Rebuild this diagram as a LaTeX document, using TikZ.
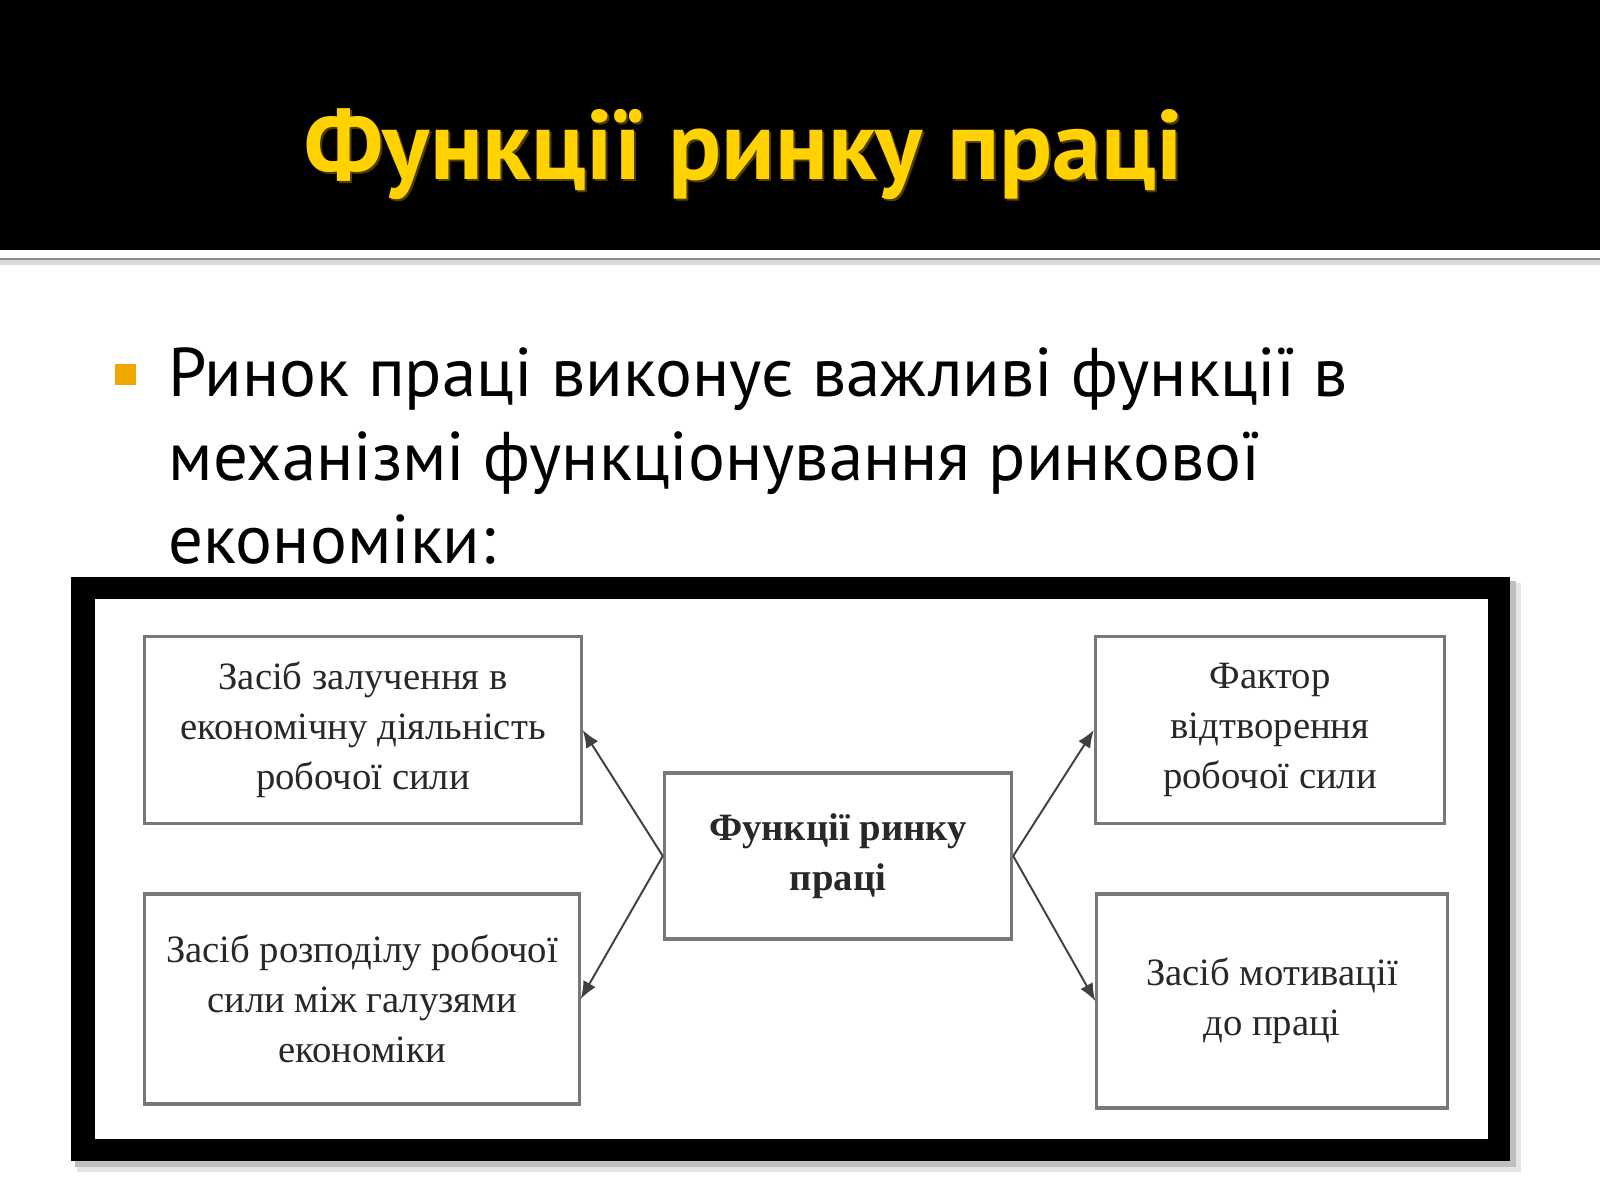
\documentclass[tikz,border=0pt]{standalone}
\usepackage{fontspec}
\newfontfamily\slidefont{PT Sans}
\newfontfamily\scanfont{Liberation Serif}
\usetikzlibrary{arrows.meta}
\definecolor{titlegold}{RGB}{255,210,0}
\definecolor{titleshade}{RGB}{80,62,0}
\definecolor{bulletorange}{RGB}{240,168,0}
\definecolor{boxline}{RGB}{120,120,120}
\definecolor{boxtext}{RGB}{40,40,40}
\begin{document}
\begin{tikzpicture}[x=0.01cm,y=-0.01cm,
  func/.style={draw=boxline,line width=0.9pt,align=center,inner sep=0pt,
    text=boxtext,font=\scanfont\fontsize{11}{14.2}\selectfont},
  textline/.style={anchor=base west,inner sep=0pt,
    font=\slidefont\fontsize{19.6}{24}\selectfont},
  link/.style={-{Latex[length=5pt,width=4pt]},draw=black!75,line width=0.55pt}]
  \useasboundingbox (0,0) rectangle (1600,1200);
  \fill[white] (0,0) rectangle (1600,1200);
  % header
  \fill[black] (0,0) rectangle (1600,250);
  \draw[black!15,line width=1.5pt] (0,262) -- (1600,262);
  \draw[black!45,line width=0.8pt] (0,259) -- (1600,259);
  \node[anchor=base west,inner sep=0pt,text=titleshade,
    font=\slidefont\bfseries\fontsize{28}{32}\selectfont] (titleshadow) at (306,181) {Функції ринку праці};
  \node[anchor=base west,inner sep=0pt,text=titlegold,
    font=\slidefont\bfseries\fontsize{28}{32}\selectfont] (title) at (304,179) {Функції ринку праці};
  % bullet text
  \fill[bulletorange] (115,364) rectangle (136,385);
  \node[textline] (line1) at (168,396) {Ринок праці виконує важливі функції в};
  \node[textline] (line2) at (168,480) {механізмі функціонування ринкової};
  \node[textline] (line3) at (168,563) {економіки:};
  % framed scheme
  \fill[black!10] (77,583) rectangle (1521,1172);
  \fill[black!25] (75,581) rectangle (1516,1167);
  \fill[black] (71,577) rectangle (1510,1161);
  \fill[white] (95,599) rectangle (1488,1139);
  \node[func,minimum width=4.36cm,minimum height=1.87cm] (attract) at (363,730) {Засіб залучення в\\економічну діяльність\\робочої сили};
  \node[func,minimum width=4.34cm,minimum height=2.10cm] (distrib) at (362,999) {Засіб розподілу робочої\\сили між галузями\\економіки};
  \node[func,font=\scanfont\bfseries\fontsize{11}{14.2}\selectfont,
    minimum width=3.47cm,minimum height=1.66cm] (market) at (838,856) {Функції ринку\\праці};
  \node[func,minimum width=3.49cm,minimum height=1.87cm] (reprod) at (1270,730) {Фактор\\відтворення\\робочої сили};
  \node[func,minimum width=3.50cm,minimum height=2.14cm] (motiv) at (1272,1001) {Засіб мотивації\\до праці};
  \draw[link] (market.west) -- (attract.east);
  \draw[link] (market.west) -- (distrib.east);
  \draw[link] (market.east) -- (reprod.west);
  \draw[link] (market.east) -- (motiv.west);
\end{tikzpicture}
\end{document}
